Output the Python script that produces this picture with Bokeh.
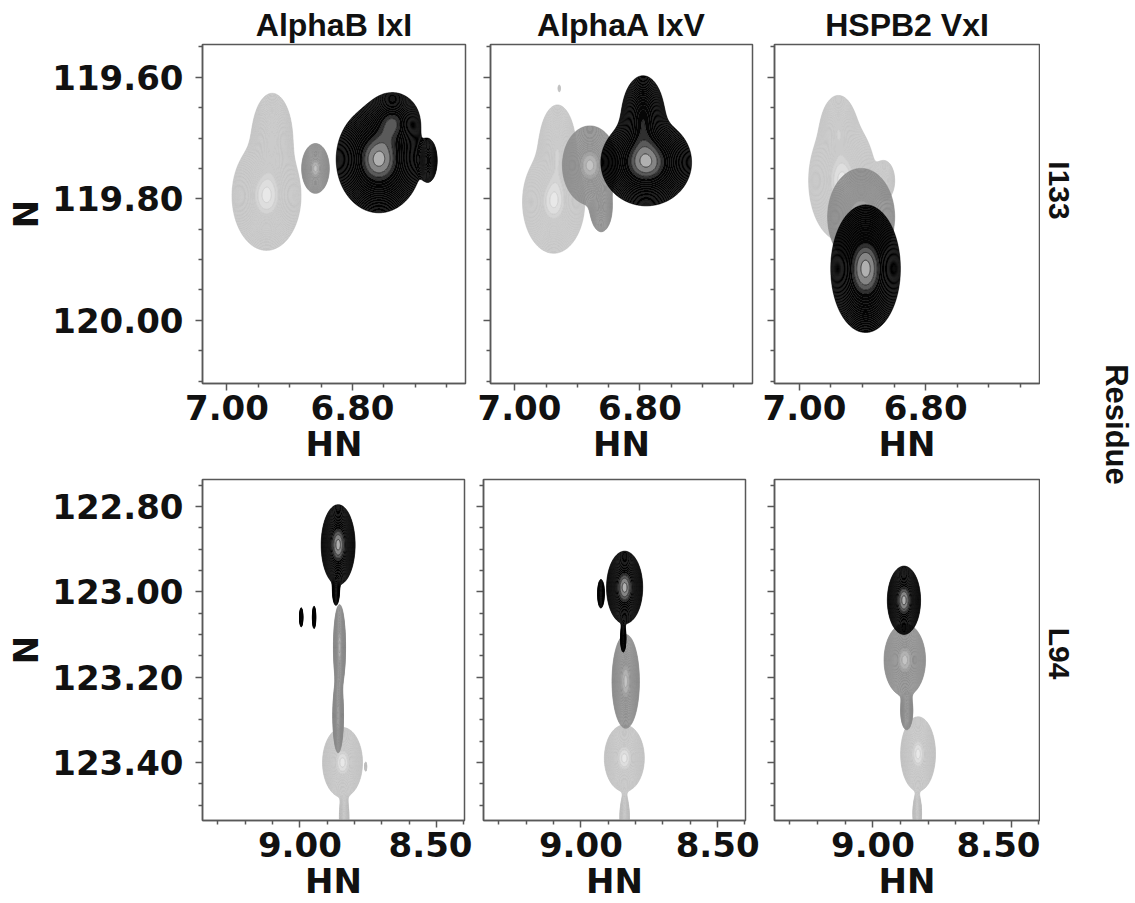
import numpy as np
from bokeh.plotting import figure
from bokeh.layouts import row, column
from bokeh.models import Range1d, FixedTicker, Label
from bokeh.embed import file_html
from bokeh.resources import INLINE

# ---------------- data ----------------
TITLES = ["AlphaB IxI", "AlphaA IxV", "HSPB2 VxI"]
RESIDUES = ["I133", "L94"]
GROUP_LABEL = "Residue"

# axis ticks / labels
I133_HN_MAJOR = [7.00, 6.80]
I133_HN_LABELS = ["7.00", "6.80"]
I133_HN_MINOR = [6.95, 6.90, 6.85, 6.75, 6.70, 6.65]
I133_N_MAJOR = [119.60, 119.80, 120.00]
I133_N_LABELS = ["119.60", "119.80", "120.00"]
I133_N_MINOR = [119.55, 119.65, 119.70, 119.75, 119.85, 119.90, 119.95, 120.05, 120.10]

L94_HN_MAJOR = [9.00, 8.50]
L94_HN_LABELS = ["9.00", "8.50"]
L94_HN_MINOR = [9.30, 9.20, 9.10, 8.90, 8.80, 8.70, 8.60, 8.40]
L94_N_MAJOR = [122.80, 123.00, 123.20, 123.40]
L94_N_LABELS = ["122.80", "123.00", "123.20", "123.40"]
L94_N_MINOR = [122.75, 122.85, 122.90, 122.95, 123.05, 123.10, 123.15,
               123.25, 123.30, 123.35, 123.45, 123.50]

# visible spectral windows (HN left, HN right, N top, N bottom)
I133_WINDOW = [7.039, 6.620, 119.546, 120.104]
L94_WINDOW = [9.356, 8.398, 122.737, 123.536]

# peak components:
# (HN ppm, N ppm, HN half-width, N half-width, relative height)
I133_alphaB_light = [(6.937, 119.795, 0.055, 0.090, 1.0), (6.928, 119.700, 0.035, 0.080, 0.65)]
I133_alphaB_mid = [(6.859, 119.750, 0.022, 0.041, 1.0)]
I133_alphaB_dark = [(6.758, 119.735, 0.068, 0.088, 1.0), (6.735, 119.672, 0.045, 0.050, 0.6),
                    (6.679, 119.737, 0.016, 0.040, 0.45)]

I133_alphaA_light = [(6.938, 119.805, 0.050, 0.085, 1.0), (6.932, 119.720, 0.032, 0.080, 0.7),
                     (6.929, 119.618, 0.004, 0.012, 0.1)]
I133_alphaA_mid = [(6.880, 119.745, 0.044, 0.065, 1.0), (6.862, 119.815, 0.020, 0.045, 0.5)]
I133_alphaA_dark = [(6.790, 119.740, 0.073, 0.072, 1.0), (6.795, 119.665, 0.038, 0.075, 0.6)]

I133_hspb2_light = [(6.932, 119.770, 0.053, 0.100, 1.0), (6.938, 119.685, 0.030, 0.060, 0.6),
                    (6.865, 119.770, 0.020, 0.040, 0.35)]
I133_hspb2_mid = [(6.902, 119.830, 0.053, 0.080, 1.0)]
I133_hspb2_dark = [(6.895, 119.915, 0.055, 0.105, 1.0)]

L94_alphaB_light = [(8.844, 123.400, 0.073, 0.082, 1.0), (8.838, 123.530, 0.020, 0.060, 0.5),
                    (8.759, 123.410, 0.006, 0.018, 0.12)]
L94_alphaB_mid = [(8.855, 123.130, 0.022, 0.100, 1.0), (8.860, 123.290, 0.020, 0.090, 0.85)]
L94_alphaB_dark = [(8.860, 122.890, 0.062, 0.094, 1.0), (8.868, 123.000, 0.015, 0.040, 0.35),
                   (8.995, 123.060, 0.008, 0.030, 0.3), (8.948, 123.060, 0.008, 0.035, 0.3)]

L94_alphaA_light = [(8.841, 123.390, 0.073, 0.078, 1.0), (8.840, 123.530, 0.020, 0.060, 0.5)]
L94_alphaA_mid = [(8.836, 123.210, 0.050, 0.110, 1.0)]
L94_alphaA_dark = [(8.840, 122.990, 0.066, 0.085, 1.0), (8.845, 123.110, 0.012, 0.040, 0.35),
                   (8.927, 123.005, 0.014, 0.040, 0.4)]

L94_hspb2_light = [(8.837, 123.380, 0.063, 0.087, 1.0), (8.840, 123.520, 0.018, 0.050, 0.5)]
L94_hspb2_mid = [(8.885, 123.160, 0.075, 0.085, 1.0), (8.878, 123.280, 0.025, 0.050, 0.5)]
L94_hspb2_dark = [(8.888, 123.020, 0.060, 0.080, 1.0)]

# ---------------- style ----------------
TICK_FONT = "DejaVu Sans"
TITLE_FONT = "Liberation Sans"
AX_COLOR = "#585858"
N_LEV = 22
LEVELS = list(np.geomspace(0.056, 0.95, N_LEV)) + [1.01]
NB = len(LEVELS) - 1

STYLES = {
    "light": dict(line="#c0c0c0",
                  fill=["#cbcbcb"] * (NB - 3) + ["#d4d4d4", "#dedede", "#e8e8e8"]),
    "mid": dict(line="#888888",
                fill=["#959595"] * (NB - 3) + ["#a2a2a2", "#b2b2b2", "#c4c4c4"]),
    "dark": dict(line="#000000",
                 fill=["#060606"] * (NB - 4) + ["#303030", "#5a5a5a", "#858585", "#b0b0b0"]),
}


def spectrum(xs, ys, comps):
    X, Y = np.meshgrid(xs, ys)
    Z = np.zeros_like(X)
    for hn, n, hx, hy, h in comps:
        sx, sy = hx / 2.4, hy / 2.4
        Z += h * np.exp(-0.5 * ((X - hn) / sx) ** 2 - 0.5 * ((Y - n) / sy) ** 2)
    return Z / Z.max()


def style_axis(ax, major, minor, labels, show_labels):
    ax.ticker = FixedTicker(ticks=major, minor_ticks=minor)
    if show_labels:
        ax.major_label_overrides = {t: l for t, l in zip(major, labels)}
        ax.major_label_text_color = "#111111"
    else:
        ax.major_label_overrides = {t: "" for t in major}
        ax.major_label_text_color = None
    ax.major_label_text_font = TICK_FONT
    ax.major_label_text_font_style = "bold"
    ax.major_label_text_font_size = "34px"
    ax.major_tick_out = 7
    ax.major_tick_in = 0
    ax.minor_tick_out = 4
    ax.minor_tick_in = 0
    ax.major_tick_line_color = AX_COLOR
    ax.minor_tick_line_color = AX_COLOR
    ax.major_tick_line_width = 1.5
    ax.minor_tick_line_width = 1.5
    ax.axis_line_color = AX_COLOR
    ax.axis_line_width = 1.5
    ax.axis_label_text_font = TICK_FONT
    ax.axis_label_text_font_style = "bold"
    ax.axis_label_text_font_size = "34px"
    ax.axis_label_text_color = "#111111"


def panel(window, spectra, hn_tick, n_tick, frame_w, frame_h, borders, title=None, ylab=True):
    left, right, top, bottom = borders
    p = figure(frame_width=frame_w, frame_height=frame_h,
               x_range=Range1d(window[0], window[1]),
               y_range=Range1d(window[3], window[2]),
               min_border_left=left, min_border_right=right,
               min_border_top=top, min_border_bottom=bottom,
               toolbar_location=None, output_backend="svg",
               title=title)
    p.grid.visible = False
    p.outline_line_color = AX_COLOR
    p.outline_line_width = 1.5
    if title:
        p.title.align = "center"
        p.title.text_font = TITLE_FONT
        p.title.text_font_size = "32px"
        p.title.text_font_style = "bold"
        p.title.text_color = "#111111"
        p.title.standoff = 4
    xs = np.linspace(window[0], window[1], 320)
    ys = np.linspace(window[2], window[3], 420)
    for kind in ["light", "mid", "dark"]:
        z = spectrum(xs, ys, spectra[kind])
        st = STYLES[kind]
        p.contour(x=xs, y=ys, z=z, levels=LEVELS, fill_color=st["fill"],
                  line_color=st["line"], line_width=0.6)
    style_axis(p.xaxis[0], hn_tick[0], hn_tick[1], hn_tick[2], True)
    p.xaxis.major_label_standoff = 4
    p.xaxis.axis_label = "HN"
    p.xaxis.axis_label_standoff = 1
    style_axis(p.yaxis[0], n_tick[0], n_tick[1], n_tick[2], ylab)
    p.yaxis.major_label_standoff = 12 if ylab else 0
    if ylab:
        p.yaxis.axis_label = "N"
        p.yaxis.axis_label_standoff = 3
    return p


top_ticks_x = (I133_HN_MAJOR, I133_HN_MINOR, I133_HN_LABELS)
top_ticks_y = (I133_N_MAJOR, I133_N_MINOR, I133_N_LABELS)
bot_ticks_x = (L94_HN_MAJOR, L94_HN_MINOR, L94_HN_LABELS)
bot_ticks_y = (L94_N_MAJOR, L94_N_MINOR, L94_N_LABELS)

top_spectra = [
    dict(light=I133_alphaB_light, mid=I133_alphaB_mid, dark=I133_alphaB_dark),
    dict(light=I133_alphaA_light, mid=I133_alphaA_mid, dark=I133_alphaA_dark),
    dict(light=I133_hspb2_light, mid=I133_hspb2_mid, dark=I133_hspb2_dark),
]
bot_spectra = [
    dict(light=L94_alphaB_light, mid=L94_alphaB_mid, dark=L94_alphaB_dark),
    dict(light=L94_alphaA_light, mid=L94_alphaA_mid, dark=L94_alphaA_dark),
    dict(light=L94_hspb2_light, mid=L94_hspb2_mid, dark=L94_hspb2_dark),
]

# layout geometry (pixels)
top_frames = [263, 262, 265]
top_borders = [(202, 12, 44, 93), (13, 10, 44, 93), (12, 1, 44, 93)]
bot_frames = [262, 262, 265]
bot_borders = [(202, 8, 3, 83), (11, 17, 3, 83), (12, 1, 3, 83)]

top_figs = []
for i in range(3):
    top_figs.append(panel(I133_WINDOW, top_spectra[i], top_ticks_x, top_ticks_y,
                          top_frames[i], 339, top_borders[i], title=TITLES[i], ylab=(i == 0)))
bot_figs = []
for i in range(3):
    bot_figs.append(panel(L94_WINDOW, bot_spectra[i], bot_ticks_x, bot_ticks_y,
                          bot_frames[i], 341, bot_borders[i], title=None, ylab=(i == 0)))

# right-hand strip with the residue names
RES_W, RES_H = 95, 903
fres = figure(width=RES_W, height=RES_H, x_range=Range1d(0, RES_W), y_range=Range1d(RES_H, 0),
              toolbar_location=None, output_backend="svg", min_border=0,
              x_axis_location=None, y_axis_location=None)
fres.outline_line_color = None
fres.grid.visible = False
for text, xpos, ypos, size in [(RESIDUES[0], 19, 190, "30px"),
                               (GROUP_LABEL, 76, 424, "31px"),
                               (RESIDUES[1], 19, 653, "30px")]:
    fres.add_layout(Label(x=xpos, y=ypos, text=text, angle=-np.pi / 2,
                          text_align="center", text_baseline="middle",
                          text_font=TITLE_FONT, text_font_style="bold",
                          text_font_size=size, text_color="#111111"))

layout = row(column(row(*top_figs), row(*bot_figs)), fres)

open("out.html", "w").write(file_html(layout, INLINE))
